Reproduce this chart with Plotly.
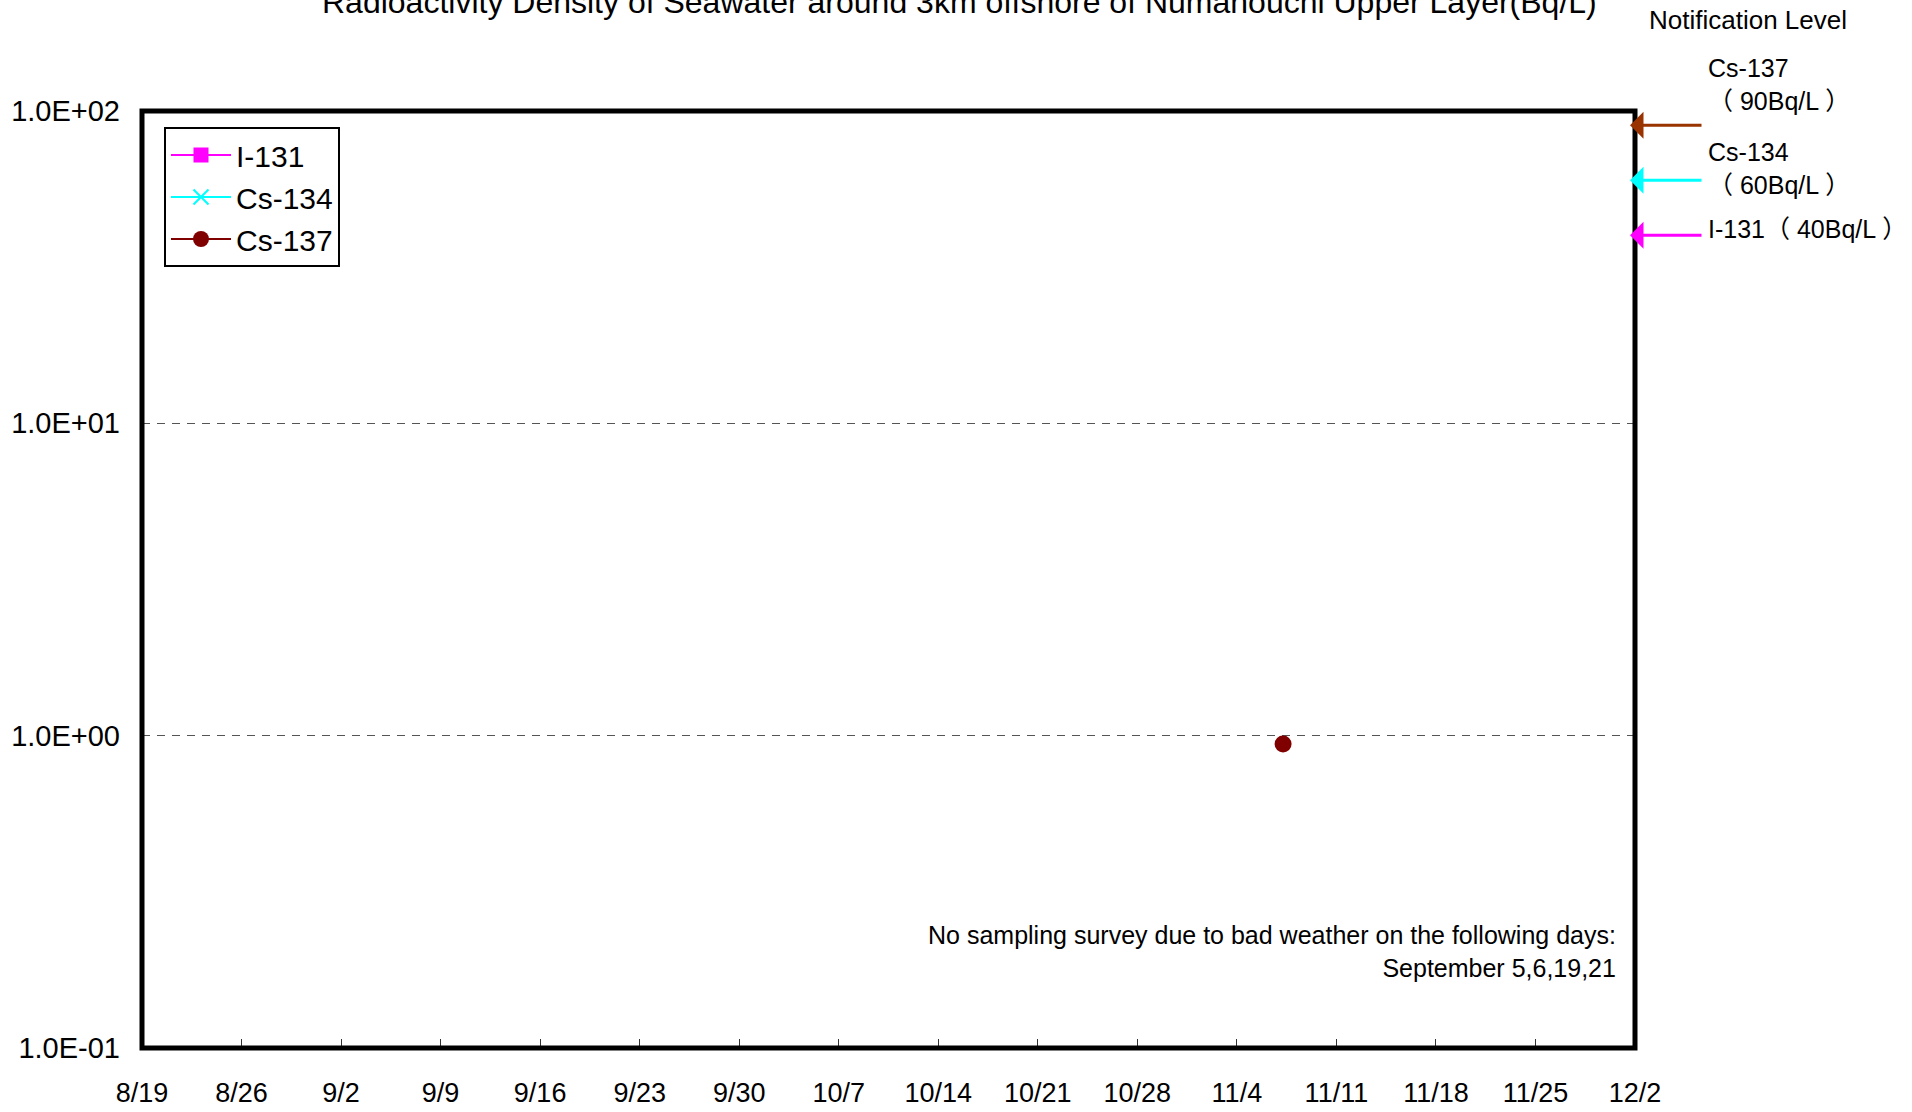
import math
import plotly.graph_objects as go

# ---------------- data ----------------
sample_dates = ["2011-11-07 06:00"]
i131_values = [None]
cs134_values = [None]
cs137_values = [0.94]

x_tick_dates = ["2011-08-19", "2011-08-26", "2011-09-02", "2011-09-09", "2011-09-16",
                "2011-09-23", "2011-09-30", "2011-10-07", "2011-10-14", "2011-10-21",
                "2011-10-28", "2011-11-04", "2011-11-11", "2011-11-18", "2011-11-25",
                "2011-12-02"]
x_tick_labels = ["8/19", "8/26", "9/2", "9/9", "9/16", "9/23", "9/30", "10/7", "10/14",
                 "10/21", "10/28", "11/4", "11/11", "11/18", "11/25", "12/2"]

y_tick_values = [0.1, 1, 10, 100]
y_tick_labels = ["1.0E-01", "1.0E+00", "1.0E+01", "1.0E+02"]

level_nuclides = ["Cs-137", "Cs-134", "I-131"]
level_values = [90, 60, 40]
level_colors = ["#993300", "#00FFFF", "#FF00FF"]
level_texts = ["Cs-137<br>（ 90Bq/L ）", "Cs-134<br>（ 60Bq/L ）", "I-131（ 40Bq/L ）"]

title_text = "Radioactivity Density of Seawater around 3km offshore of Numanouchi Upper Layer(Bq/L)"
note_text = "No sampling survey due to bad weather on the following days:<br>September 5,6,19,21"

FONT = "Liberation Sans, Arial, Noto Sans CJK JP, sans-serif"

# ---------------- figure ----------------
fig = go.Figure()
fig.add_trace(go.Scatter(x=sample_dates, y=i131_values, name="I-131", mode="lines+markers",
                         line=dict(color="#FF00FF", width=2),
                         marker=dict(symbol="square", size=15, color="#FF00FF")))
fig.add_trace(go.Scatter(x=sample_dates, y=cs134_values, name="Cs-134", mode="lines+markers",
                         line=dict(color="#00FFFF", width=2),
                         marker=dict(symbol="x-thin", size=15, color="#00FFFF",
                                     line=dict(color="#00FFFF", width=2))))
fig.add_trace(go.Scatter(x=sample_dates, y=cs137_values, name="Cs-137", mode="lines+markers",
                         line=dict(color="#800000", width=2),
                         marker=dict(symbol="circle", size=17, color="#800000")))

L, R, T, B = 142, 277, 111, 64
W, H = 1912, 1112
pw = W - L - R
ph = H - T - B


def px_to_paper_x(px):
    return (px - L) / pw


def px_to_paper_y(py):
    return (H - B - py) / ph


annotations = []
# title
annotations.append(dict(text=title_text, xref="paper", yref="paper",
                        x=px_to_paper_x(959), y=px_to_paper_y(2), xanchor="center",
                        yanchor="middle", showarrow=False,
                        font=dict(size=32, color="black", family=FONT)))
# notification level header
annotations.append(dict(text="Notification Level", xref="paper", yref="paper",
                        x=px_to_paper_x(1748), y=px_to_paper_y(19.5), xanchor="center",
                        yanchor="middle", showarrow=False,
                        font=dict(size=26, color="black", family=FONT)))
label_centers = [85, 168, 229]
for name, val, col, txt, cy in zip(level_nuclides, level_values, level_colors, level_texts,
                                   label_centers):
    annotations.append(dict(text="", xref="paper", yref="y", x=px_to_paper_x(1630),
                            y=math.log10(val), ax=73, ay=0, axref="pixel", ayref="pixel",
                            showarrow=True, arrowhead=1, arrowsize=1.5, arrowwidth=3,
                            arrowcolor=col, standoff=0, startstandoff=0))
    annotations.append(dict(text=txt, xref="paper", yref="paper", x=px_to_paper_x(1706),
                            y=px_to_paper_y(cy), xanchor="left", yanchor="middle",
                            align="left", showarrow=False,
                            font=dict(size=25, color="black", family=FONT)))
# note
annotations.append(dict(text=note_text, xref="paper", yref="paper", x=px_to_paper_x(1618),
                        y=px_to_paper_y(951), xanchor="right", yanchor="middle",
                        align="right", showarrow=False,
                        font=dict(size=25, color="black", family=FONT)))

fig.update_layout(
    width=W, height=H,
    margin=dict(l=L, r=R, t=T, b=B, autoexpand=False),
    paper_bgcolor="white", plot_bgcolor="white",
    font=dict(family=FONT, color="black"),
    showlegend=True,
    legend=dict(x=px_to_paper_x(164), y=px_to_paper_y(127), xanchor="left", yanchor="top",
                bordercolor="black", borderwidth=2, bgcolor="white",
                font=dict(size=30, color="black", family=FONT),
                itemwidth=60, tracegroupgap=0),
    annotations=annotations,
    shapes=[dict(type="rect", xref="paper", yref="paper", x0=0, x1=1, y0=0, y1=1,
                 line=dict(color="black", width=5), layer="above")],
    xaxis=dict(type="date", range=[x_tick_dates[0], x_tick_dates[-1]],
               tickmode="array", tickvals=x_tick_dates, ticktext=x_tick_labels,
               ticks="inside", ticklen=9, tickwidth=1, tickcolor="#333",
               showline=False, showgrid=False, zeroline=False, automargin=False,
               tickfont=dict(size=27, color="black", family=FONT),
               ticklabelstandoff=26),
    yaxis=dict(type="log", range=[-1, 2], tickmode="array", tickvals=y_tick_values,
               ticktext=y_tick_labels, ticks="", showline=False,
               showgrid=True, gridcolor="#555", gridwidth=1, griddash="8px,7px",
               zeroline=False, automargin=False,
               tickfont=dict(size=29, color="black", family=FONT),
               ticklabelstandoff=21),
)

fig.write_html("out.html", config={"displayModeBar": False},
               post_script="document.body.style.margin='0px';document.body.style.overflow='hidden';")
